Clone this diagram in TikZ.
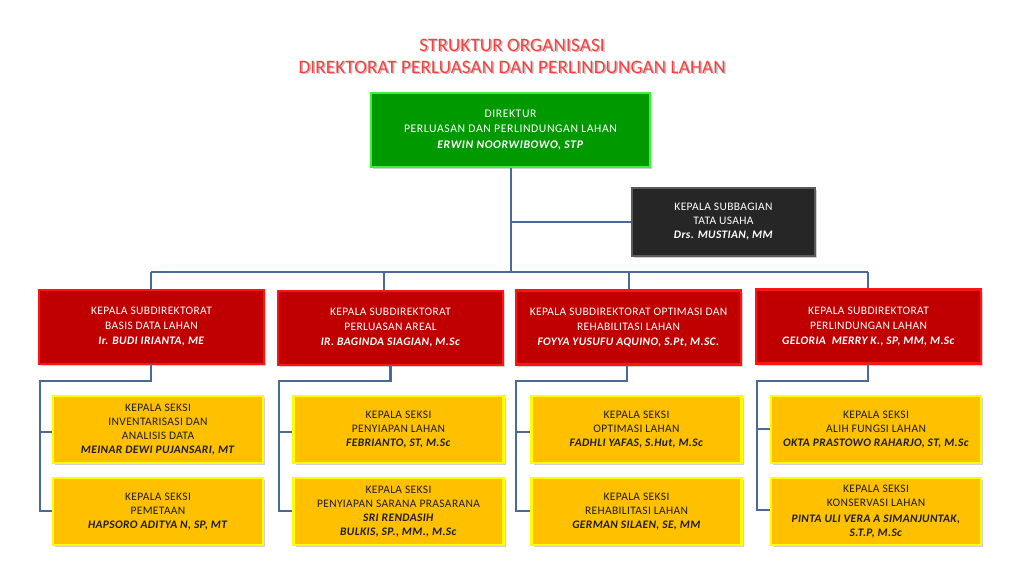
\documentclass[tikz,border=0pt]{standalone}
\usepackage{fontspec}
\setmainfont{Carlito}
\newfontfamily\boxfont[LetterSpace=3]{Carlito}
\newfontfamily\greenfont[LetterSpace=5]{Carlito}
\newfontfamily\titlefont[LetterSpace=1]{Carlito}
\usetikzlibrary{shadows,calc}
\definecolor{conn}{RGB}{74,104,152}
\definecolor{redfill}{RGB}{192,0,0}
\definecolor{redline}{RGB}{255,20,20}
\definecolor{yelfill}{RGB}{255,192,0}
\definecolor{yelline}{RGB}{255,255,0}
\definecolor{grnfill}{RGB}{0,154,0}
\definecolor{grnline}{RGB}{60,240,60}
\definecolor{blkfill}{RGB}{38,38,38}
\definecolor{blkline}{RGB}{90,90,90}
\definecolor{titlered}{RGB}{255,60,60}
\definecolor{yeltext}{RGB}{30,30,30}
\tikzset{
  box/.style={rectangle, inner sep=0pt, outer sep=0pt, align=center,
    drop shadow={shadow xshift=2pt, shadow yshift=-2pt, opacity=0.3, fill=black!60}},
  greenbox/.style={box, fill=grnfill, draw=grnline, line width=2.5pt,
    minimum width=279pt, minimum height=74pt, text=white,
    font=\greenfont\fontsize{11.7}{15.5}\selectfont},
  blackbox/.style={box, fill=blkfill, draw=blkline, line width=2pt,
    minimum width=183pt, minimum height=68pt, text=white,
    font=\boxfont\fontsize{11.5}{14}\selectfont},
  redbox/.style={box, fill=redfill, draw=redline, line width=2.5pt,
    minimum width=225pt, minimum height=74pt, text=white,
    font=\boxfont\fontsize{11.5}{15}\selectfont},
  yelbox/.style={box, fill=yelfill, draw=yelline, line width=2.5pt,
    minimum width=210pt, minimum height=67pt, text=yeltext,
    font=\boxfont\fontsize{11.5}{14}\selectfont},
  conline/.style={draw=conn, line width=2.6pt},
  titletext/.style={font=\titlefont\fontsize{19}{21}\selectfont, text=titlered, inner sep=0pt},
  titleshadow/.style={font=\titlefont\fontsize{19}{21}\selectfont, text=black!25, inner sep=0pt},
}
\newcommand{\nm}[1]{\textbf{\textit{#1}}}
\begin{document}
\begin{tikzpicture}[x=1pt,y=-1pt]
\useasboundingbox (0,0) rectangle (1024,576);
\fill[white] (0,0) rectangle (1024,576);

% title
\node[titleshadow] (t1s) at (513.5,46.5) {STRUKTUR ORGANISASI};
\node[titletext] (t1) at (512,45) {STRUKTUR ORGANISASI};
\node[titleshadow] (t2s) at (513.5,68.5) {DIREKTORAT PERLUASAN DAN PERLINDUNGAN LAHAN};
\node[titletext] (t2) at (512,67) {DIREKTORAT PERLUASAN DAN PERLINDUNGAN LAHAN};

% coordinates of connector skeleton
\coordinate (trunk) at (511,272);
\coordinate (tu) at (511,222);
\coordinate (h1) at (151,272);
\coordinate (h2) at (384,272);
\coordinate (h3) at (629,272);
\coordinate (h4) at (868,272);
\coordinate (s1) at (40,381);
\coordinate (s2) at (279,381);
\coordinate (s3) at (516,381);
\coordinate (s4) at (757,381);

% connectors (drawn first, boxes on top)
\draw[conline] (511,160) -- (trunk);
\draw[conline] (tu) -- (640,222);
\draw[conline] (h1) -- (h4);
\draw[conline] (h1) -- (151,295);
\draw[conline] (h2) -- (384,295);
\draw[conline] (h3) -- (629,295);
\draw[conline] (h4) -- (868,295);

% boxes
\node[greenbox] (dir) at (510.5,130) {DIREKTUR\\PERLUASAN DAN PERLINDUNGAN LAHAN\\\nm{ERWIN NOORWIBOWO, STP}};
\node[blackbox] (tu1) at (723.5,222) {KEPALA SUBBAGIAN\\TATA USAHA\\\nm{Drs. MUSTIAN, MM}};

\node[redbox] (r1) at (151.5,327) {KEPALA SUBDIREKTORAT\\BASIS DATA LAHAN\\\nm{Ir. BUDI IRIANTA, ME}};
\node[redbox] (r2) at (390.5,328) {KEPALA SUBDIREKTORAT\\PERLUASAN AREAL\\\nm{IR. BAGINDA SIAGIAN, M.Sc}};
\node[redbox] (r3) at (628.5,327.5) {KEPALA SUBDIREKTORAT OPTIMASI DAN\\REHABILITASI LAHAN\\\nm{FOYYA YUSUFU AQUINO, S.Pt, M.SC.}};
\node[redbox] (r4) at (868.5,326.5) {KEPALA SUBDIREKTORAT\\PERLINDUNGAN LAHAN\\\nm{GELORIA\ \ MERRY K., SP, MM, M.Sc}};

% bottom connectors
\draw[conline] (r1.south -| 151,0) |- (s1) -- (s1 |- 0,511) -- (53,511);
\draw[conline] (s1 |- 0,432) -- (53,432);
\draw[conline] (r2.south) |- (s2) -- (s2 |- 0,511) -- (294,511);
\draw[conline] (s2 |- 0,432) -- (294,432);
\draw[conline] (r3.south -| 627,0) |- (s3) -- (s3 |- 0,511) -- (532,511);
\draw[conline] (s3 |- 0,432) -- (532,432);
\draw[conline] (r4.south -| 868,0) |- (s4) -- (s4 |- 0,510) -- (772,510);
\draw[conline] (s4 |- 0,429) -- (772,429);

% yellow boxes
\node[yelbox] (y11) at (158,429.5) {KEPALA SEKSI\\INVENTARISASI DAN\\ANALISIS DATA\\\nm{MEINAR DEWI PUJANSARI, MT}};
\node[yelbox] (y12) at (158,511.5) {KEPALA SEKSI\\PEMETAAN\\\nm{HAPSORO ADITYA N, SP, MT}};
\node[yelbox] (y21) at (398.5,429.5) {KEPALA SEKSI\\PENYIAPAN LAHAN\\\nm{FEBRIANTO, ST, M.Sc}};
\node[yelbox] (y22) at (398.5,511.5) {KEPALA SEKSI\\PENYIAPAN SARANA PRASARANA\\\nm{SRI RENDASIH}\\\nm{BULKIS, SP., MM., M.Sc}};
\node[yelbox] (y31) at (636.5,429.5) {KEPALA SEKSI\\OPTIMASI LAHAN\\\nm{FADHLI YAFAS, S.Hut, M.Sc}};
\node[yelbox] (y32) at (636.5,511.5) {KEPALA SEKSI\\REHABILITASI LAHAN\\\nm{GERMAN SILAEN, SE, MM}};
\node[yelbox] (y41) at (876,429.5) {KEPALA SEKSI\\ALIH FUNGSI LAHAN\\\nm{OKTA PRASTOWO RAHARJO, ST, M.Sc}};
\node[yelbox] (y42) at (876,511.5) {KEPALA SEKSI\\KONSERVASI LAHAN\\[2pt]\nm{PINTA ULI VERA A SIMANJUNTAK,}\\\nm{S.T.P, M.Sc}};
\end{tikzpicture}
\end{document}
